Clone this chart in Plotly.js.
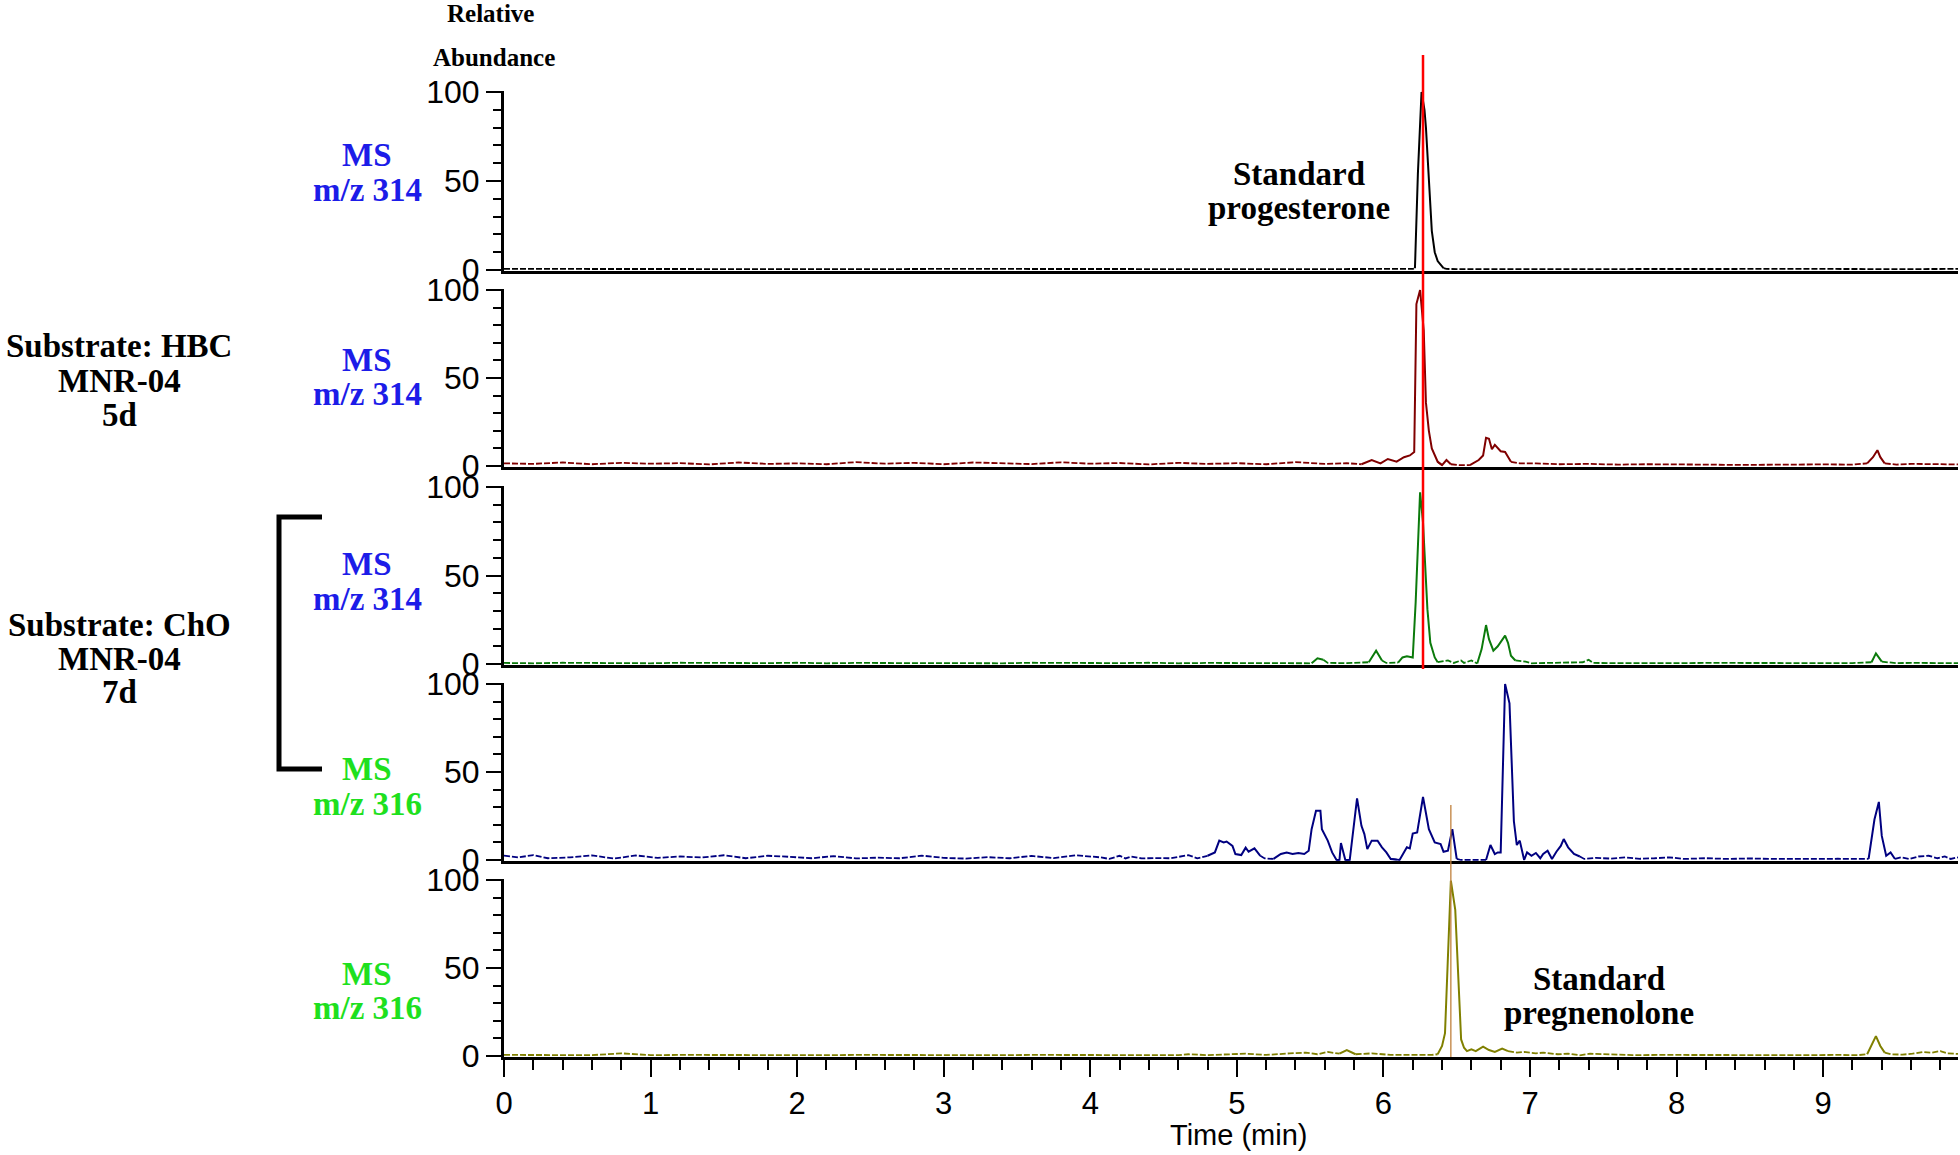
<!DOCTYPE html>
<html>
<head>
<meta charset="utf-8">
<script src="https://cdn.plot.ly/plotly-3.0.1.min.js"></script>
<style>html,body{margin:0;padding:0;background:#fff;}#chart{width:1960px;height:1155px;}</style>
</head>
<body>
<div id="chart"></div>
<script>
// ---------------- DATA ----------------
// Panel 1: standard progesterone, m/z 314
const t1 = [0,0.5,1,1.5,2,2.5,3,3.5,4,4.5,5,5.5,6,6.1,6.2,6.215,6.235,6.26,6.28,6.29,6.31,6.33,6.35,6.37,6.39,6.41,6.43,6.5,7,7.5,8,8.5,9,9.5,9.92];
const y1 = [0.6,0.5,0.7,0.5,0.6,0.5,0.6,0.5,0.6,0.5,0.6,0.5,0.6,0.5,0.6,1.0,54,100,90,80,50,22,10,5,3,1,0.6,0.5,0.6,0.5,0.6,0.5,0.6,0.5,0.6];

// Panel 2: substrate HBC, MNR-04 5d, m/z 314
const t2 = [0,0.2,0.4,0.6,0.8,1.0,1.2,1.4,1.6,1.8,2.0,2.2,2.4,2.6,2.8,3.0,3.2,3.4,3.6,3.8,4.0,4.2,4.4,4.6,4.8,5.0,5.2,5.4,5.6,
  5.75,5.85,5.92,5.98,6.03,6.09,6.14,6.18,6.21,6.225,6.25,6.275,6.29,6.31,6.33,6.37,6.40,6.43,6.46,6.52,6.59,6.65,6.68,6.70,6.72,6.74,6.76,6.80,6.83,6.87,6.93,7.04,
  7.2,7.4,7.6,7.8,8.0,8.2,8.4,8.6,8.8,9.0,9.2,9.30,9.34,9.37,9.39,9.42,9.5,9.6,9.7,9.8,9.92];
const y2 = [1.5,1.2,2.0,1.0,1.8,1.3,1.6,0.9,2.0,1.2,1.5,1.0,2.2,1.3,1.8,1.0,2.0,1.4,1.1,2.1,1.3,1.7,0.9,1.8,1.2,1.6,1.0,2.2,1.2,
  1.6,1.0,3.4,1.5,4.0,2.5,5.0,6.0,8.0,92,100,77,36,20,10,2.4,0.5,3.4,1.0,0.5,0.5,3.4,6.0,16,15.5,9.5,12,8.4,8.0,2.4,1.5,1.5,
  1.0,1.2,0.8,1.0,0.7,0.8,0.6,0.8,0.7,0.9,0.8,1.5,5,9,5,1.5,0.8,1.2,1.0,0.8,0.9];

// Panel 3: substrate ChO, MNR-04 7d, m/z 314
const t3 = [0,0.2,0.4,0.6,0.8,1.0,1.2,1.4,1.6,1.8,2.0,2.2,2.4,2.6,2.8,3.0,3.2,3.4,3.6,3.8,4.0,4.2,4.4,4.6,4.8,5.0,5.2,5.4,
  5.51,5.55,5.59,5.62,5.75,5.90,5.95,5.99,6.02,6.10,6.13,6.16,6.20,6.22,6.25,6.27,6.30,6.32,6.35,6.37,6.41,6.44,6.48,6.53,6.55,6.60,6.64,
  6.67,6.70,6.72,6.75,6.78,6.83,6.85,6.87,6.90,6.97,7.01,7.2,7.36,7.40,7.43,7.6,7.8,8.0,8.2,8.4,8.6,8.8,9.0,9.2,9.33,9.36,9.40,9.5,9.6,9.7,9.8,9.92];
const y3 = [0.6,0.4,0.7,0.5,0.6,0.4,0.7,0.5,0.6,0.5,0.7,0.4,0.6,0.5,0.7,0.5,0.6,0.4,0.7,0.5,0.6,0.5,0.7,0.4,0.6,0.5,0.7,0.5,
  0.4,3.2,2.4,0.6,0.5,1.0,7.5,2.0,0.6,0.8,3.7,4.3,3.7,35,97,80,31,12,3.7,1.0,1.5,2.0,0.6,2.0,0.6,2.0,0.3,
  8.4,22,14,7.5,10,16,12,4.7,2.0,1.3,0.4,0.6,1.0,2.4,0.6,0.5,0.7,0.5,0.6,0.5,0.7,0.5,0.6,0.5,1.0,6.0,1.3,0.5,0.6,0.5,0.7,0.5];

// Panel 4: substrate ChO, MNR-04 7d, m/z 316
const t4 = [0,0.1,0.2,0.3,0.45,0.6,0.75,0.9,1.05,1.2,1.35,1.5,1.65,1.8,1.95,2.1,2.25,2.4,2.55,2.7,2.85,3.0,3.15,3.3,3.45,3.6,3.75,3.9,4.07,
  4.13,4.20,4.24,4.28,4.35,4.43,4.55,4.67,4.73,4.80,4.85,4.88,4.91,4.93,4.97,4.99,5.03,5.06,5.08,5.12,5.16,5.19,5.25,5.30,5.34,5.38,5.42,5.46,5.49,
  5.51,5.54,5.57,5.58,5.62,5.65,5.68,5.70,5.71,5.74,5.77,5.82,5.85,5.87,5.89,5.92,5.96,5.99,6.02,6.05,6.11,6.16,6.18,6.20,6.23,6.27,6.31,6.35,6.39,6.41,6.44,6.47,6.50,6.53,
  6.70,6.73,6.76,6.78,6.80,6.83,6.86,6.89,6.91,6.93,6.96,6.98,7.01,7.04,7.07,7.09,7.12,7.15,7.18,7.21,7.23,7.26,7.30,7.34,7.37,
  7.45,7.55,7.65,7.75,7.85,7.95,8.05,8.2,8.35,8.5,8.65,8.8,8.95,9.1,9.25,9.31,9.35,9.38,9.40,9.43,9.46,9.49,9.53,9.59,9.65,9.72,9.78,9.83,9.87,9.92];
const y4 = [2.5,1.5,2.8,1.0,1.5,2.6,0.8,2.6,1.2,2.0,1.4,2.7,1.0,2.4,1.8,1.0,2.2,0.9,1.3,1.0,2.5,1.2,0.8,1.6,1.0,2.3,1.1,2.7,1.5,
  0.6,2.4,0.9,2.0,0.9,1.1,1.0,2.8,0.9,2.4,4.3,11,10,10.5,8,3.4,2.8,7,4.7,6.6,2.4,0.9,0.6,3.4,4.3,3.4,4.0,3.4,5.3,
  17.5,28,28,17.5,11,4.3,0,0,9.6,0,0,35,19.4,14.7,6.2,11,11,7.2,4.3,0.6,0,7.2,6.6,15,15.6,35.8,17.5,10,9,4.7,5.3,17.5,0.6,0,
  0,8.5,3.4,4.3,4.3,100,89,22,8.5,11,0,4.3,2.4,4.0,1.0,3.4,5.3,0.6,4.7,8.0,11.9,7.2,3.4,2.0,0.6,
  1.2,0.8,1.5,0.7,1.0,1.5,0.6,1.0,0.6,0.9,0.6,0.8,0.6,0.7,0.6,0.6,23,33,13.7,2.4,4.3,0.6,1.5,0.6,2.0,2.4,1.0,2.0,0.6,1.5];

// Panel 5: standard pregnenolone, m/z 316
const t5 = [0,0.2,0.4,0.6,0.8,1.0,1.2,1.4,1.6,1.8,2.0,2.2,2.4,2.6,2.8,3.0,3.2,3.4,3.6,3.8,4.0,4.2,4.4,4.6,
  4.67,4.8,5.06,5.2,5.36,5.47,5.55,5.62,5.70,5.75,5.81,5.92,6.05,6.2,6.33,6.37,6.40,6.42,6.44,6.46,6.49,6.51,6.53,6.55,6.57,6.60,6.63,
  6.68,6.72,6.76,6.81,6.85,6.91,6.96,7.04,7.09,7.19,7.26,7.34,7.41,7.52,7.7,7.9,8.1,8.3,8.5,8.7,8.9,9.1,9.24,
  9.30,9.33,9.36,9.39,9.42,9.46,9.54,9.61,9.68,9.74,9.80,9.85,9.92];
const y5 = [0.6,0.5,0.7,0.5,1.5,0.5,0.6,0.5,0.7,0.5,0.6,0.5,0.6,0.5,0.7,0.5,0.6,0.5,0.6,0.5,0.6,0.5,0.6,0.5,
  1.0,0.5,1.3,0.6,1.5,1.9,1.0,2.3,1.3,3.4,1.0,1.5,0.6,0.5,0.6,1.0,5.7,13,55,99.6,83,41.5,9.4,4.7,2.8,3.8,2.8,
  5.3,3.4,2.3,4.2,2.8,1.9,2.3,1.5,1.9,1.0,1.3,0.4,1.3,1.0,0.5,0.6,0.5,0.6,0.5,0.6,0.5,0.6,0.5,
  1.0,5.7,11.3,5.7,1.9,1.0,0.8,1.3,2.3,1.9,2.8,1.5,1.2];

const panelTimes  = [t1, t2, t3, t4, t5];
const panelValues = [y1, y2, y3, y4, y5];
const traceColors = ['#000000', '#800000', '#0b7a0b', '#000080', '#808000'];
const msLines     = [['MS','m/z 314'],['MS','m/z 314'],['MS','m/z 314'],['MS','m/z 316'],['MS','m/z 316']];
const msColors    = ['#1c1ce8','#1c1ce8','#1c1ce8','#1ee01e','#1ee01e'];
const xTickVals   = [0,1,2,3,4,5,6,7,8,9];
const yTickVals   = [0,50,100];
const markerTimes = [6.27, 6.46];   // progesterone (red), pregnenolone (brown) retention markers
const groupLabels = [['Substrate: HBC','MNR-04','5d'],['Substrate: ChO','MNR-04','7d']];
const peakLabels  = [['Standard','progesterone'],['Standard','pregnenolone']];

// ---------------- LAYOUT (pixel geometry) ----------------
const W = 1960, H = 1155;
const px = x => x / W;
const py = y => 1 - y / H;
const plotLeft = 504, plotRight = 1958;
const panelPx = [[92,270],[290,466],[487,664],[684,860],[880,1056]]; // [y of 100, y of 0]
const yMin = -0.4, yMax = 100.8;
const xRange = [0, 9.92];
const serif = 'Liberation Serif, Times New Roman, serif';
const sans = 'Liberation Sans, Arial, sans-serif';

const data = [];
const layout = {
  width: W, height: H,
  margin: {l:0, r:0, t:0, b:0},
  paper_bgcolor: '#ffffff', plot_bgcolor: 'rgba(0,0,0,0)',
  showlegend: false,
  annotations: [], shapes: []
};

const thr = 3;
panelTimes.forEach((t, k) => {
  const y = panelValues[k];
  const n = k + 1;
  const xa = n === 1 ? 'x' : 'x' + n;
  const ya = n === 1 ? 'y' : 'y' + n;
  const solid = y.map((v,i) => (v >= thr || (i>0 && y[i-1] >= thr) || (i<y.length-1 && y[i+1] >= thr)) ? v : null);
  const dashed = y.map(v => v < thr ? v : null);
  data.push({x: t, y: dashed, xaxis: xa, yaxis: ya, type: 'scatter', mode: 'lines',
             line: {color: traceColors[k], width: 1.8, dash: '6px,2px'}, hoverinfo: 'skip'});
  data.push({x: t, y: solid, xaxis: xa, yaxis: ya, type: 'scatter', mode: 'lines',
             line: {color: traceColors[k], width: 2}, hoverinfo: 'skip'});

  const [p100, p0] = panelPx[k];
  const unit = (p0 - p100) / 100;
  const top = p100 - (yMax - 100) * unit;
  const bot = p0 - yMin * unit;
  const isLast = n === 5;
  layout[n === 1 ? 'xaxis' : 'xaxis' + n] = {
    domain: [px(plotLeft), px(plotRight)], anchor: ya, range: xRange,
    matches: n === 1 ? undefined : 'x',
    showline: true, linecolor: '#000', linewidth: 3, showgrid: false, zeroline: false,
    ticks: isLast ? 'outside' : '', showticklabels: isLast,
    tickmode: 'array', tickvals: xTickVals, ticklen: 17, tickwidth: 2, tickcolor: '#000',
    tickfont: {family: sans, size: 31, color: '#000'},
    minor: isLast ? {ticks: 'outside', dtick: 0.2, tick0: 0, ticklen: 10, tickwidth: 2, tickcolor: '#000'} : undefined
  };
  layout[n === 1 ? 'yaxis' : 'yaxis' + n] = {
    domain: [py(bot), py(top)], anchor: xa, range: [yMin, yMax],
    showline: true, linecolor: '#000', linewidth: 3, showgrid: false, zeroline: false,
    ticks: 'outside', tickmode: 'array', tickvals: yTickVals, ticklen: 15, tickwidth: 2, tickcolor: '#000',
    tickfont: {family: sans, size: 32, color: '#000'},
    minor: {ticks: 'outside', dtick: 10, tick0: 0, ticklen: 8, tickwidth: 2, tickcolor: '#000'}
  };
});

function addText(text, xPix, yPix, size, color, family, bold) {
  layout.annotations.push({
    text: bold ? '<b>' + text + '</b>' : text,
    x: px(xPix), y: py(yPix), xref: 'paper', yref: 'paper',
    xanchor: 'center', yanchor: 'middle', showarrow: false,
    font: {family: family, size: size, color: color}
  });
}

// y-axis heading
addText('Relative', 490, 13, 25, '#000', serif, true);
addText('Abundance', 494, 58, 25, '#000', serif, true);

// MS labels
const msYs = [[155,190],[360,394],[564,599],[769,804],[974,1008]];
msLines.forEach((lines, k) => {
  lines.forEach((s, j) => addText(s, 367, msYs[k][j], 33, msColors[k], serif, true));
});

// group labels
const groupYs = [[346,381,415],[625,659,692]];
groupLabels.forEach((lines, k) => {
  lines.forEach((s, j) => addText(s, 119, groupYs[k][j], 33, '#000', serif, true));
});

// peak labels
const peakPos = [[1299,[174,208]],[1599,[979,1013]]];
peakLabels.forEach((lines, k) => {
  lines.forEach((s, j) => addText(s, peakPos[k][0], peakPos[k][1][j], 33, '#000', serif, true));
});

// x-axis title
addText('Time (min)', 1238, 1135, 29, '#000', sans, false);

// bracket
layout.shapes.push({type: 'path', xref: 'paper', yref: 'paper',
  path: `M ${px(322)} ${py(517)} L ${px(279)} ${py(517)} L ${px(279)} ${py(769)} L ${px(322)} ${py(769)}`,
  line: {color: '#000', width: 5}});

// retention-time marker lines
layout.shapes.push({type: 'line', xref: 'x', yref: 'paper',
  x0: markerTimes[0], x1: markerTimes[0], y0: py(55), y1: py(669),
  line: {color: '#ff0000', width: 2.5}});
layout.shapes.push({type: 'line', xref: 'x', yref: 'paper',
  x0: markerTimes[1], x1: markerTimes[1], y0: py(805), y1: py(1057),
  line: {color: '#c0803c', width: 1.3}});

Plotly.newPlot('chart', data, layout, {staticPlot: true, displayModeBar: false});
</script>
</body>
</html>
